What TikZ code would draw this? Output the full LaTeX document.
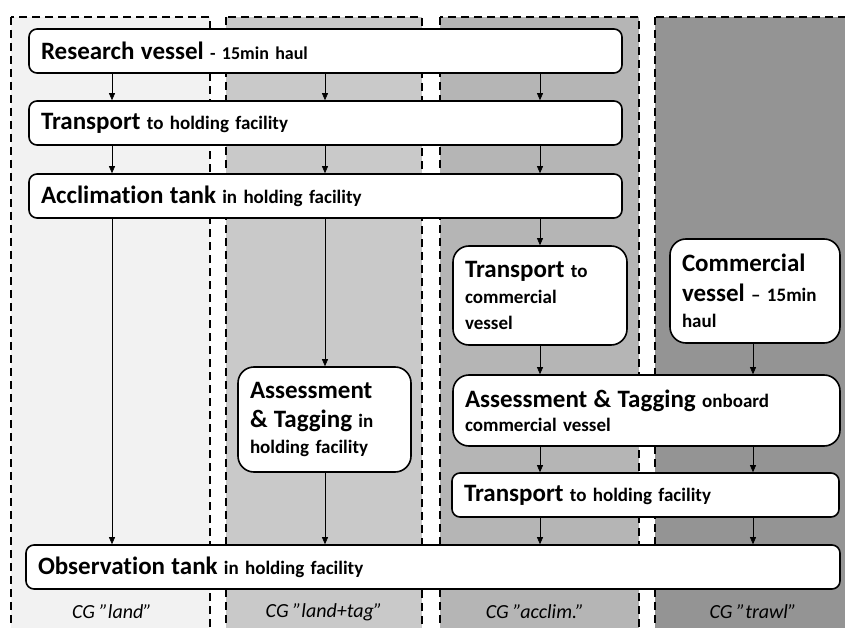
\documentclass[tikz,border=0pt]{standalone}
\usepackage{fontspec}
\setmainfont{Carlito}[Ligatures=NoCommon]
\usepackage{tikz}
\usetikzlibrary{arrows.meta,calc}

\newcommand{\headfs}{\fontsize{25}{27}\selectfont}
\newcommand{\notefs}{\fontsize{19}{26}\selectfont}
\newcommand{\smallnotefs}{\fontsize{18}{26}\selectfont}

\tikzset{
  lane/.style={draw=black, line width=2pt, dash pattern=on 8pt off 5pt},
  stage/.style={draw=black, line width=1.6pt, rounded corners=8pt, fill=white,
    inner xsep=12pt, inner ysep=0pt, align=left, font=\bfseries\notefs},
  tallstage/.style={stage, rounded corners=16pt},
  flow/.style={-{Triangle[length=7pt,width=6pt]}, line width=0.6pt},
  lanelabel/.style={font=\itshape\fontsize{20}{24}\selectfont}
}

\begin{document}
\begin{tikzpicture}[x=1pt,y=-1pt]
\useasboundingbox (0,0) rectangle (845,628);
\begin{scope}
\clip (0,0) rectangle (845,628);
\filldraw[lane,fill=black!5] (11,17) rectangle (210,645);
\filldraw[lane,fill=black!21] (226,17) rectangle (422,645);
\filldraw[lane,fill=black!29] (440,17) rectangle (639,645);
\filldraw[lane,fill=black!42] (655,17) rectangle (870,645);
\end{scope}

\coordinate (c1) at (112,0);
\coordinate (c2) at (325,0);
\coordinate (c3) at (540,0);
\coordinate (c4) at (753,0);

\node[stage, text width=569pt, minimum height=44pt] (research) at (325.5,51)
  {{\headfs Research vessel} {\smallnotefs - 15min haul}};
\node[stage, text width=569pt, minimum height=44pt] (transp) at (325.5,123)
  {{\headfs Transport} to holding facility};
\node[stage, text width=569pt, minimum height=44pt] (acclim) at (325.5,196)
  {{\headfs Acclimation tank} in holding facility};
\node[tallstage, text width=150pt, minimum height=99pt] (transcom) at (540,295.5)
  {{\headfs Transport} to\\ commercial\\ vessel};
\node[tallstage, text width=146pt, minimum height=104pt] (comves) at (755,291)
  {{\headfs Commercial}\\[4pt] {\headfs vessel} -- 15min\\ haul};
\node[tallstage, text width=149pt, minimum height=105pt] (assesshold) at (324.5,419.5)
  {{\headfs Assessment}\\[3pt] {\headfs\& Tagging} in\\ holding facility};
\node[tallstage, text width=363pt, minimum height=71pt] (assessboard) at (646.5,410.5)
  {{\headfs Assessment \& Tagging} onboard\\[-2pt] commercial vessel};
\node[stage, text width=363pt, minimum height=44pt] (transhold) at (645.5,495)
  {{\headfs Transport} to holding facility};
\node[stage, text width=790pt, minimum height=44pt] (obs) at (433,567)
  {{\headfs Observation tank} in holding facility};

\foreach \c in {c1,c2,c3}{
  \draw[flow] (research.south -| \c) -- (transp.north -| \c);
  \draw[flow] (transp.south -| \c) -- (acclim.north -| \c);
}
\draw[flow] (acclim.south -| c1) -- (obs.north -| c1);
\draw[flow] (acclim.south -| c2) -- (assesshold.north -| c2);
\draw[flow] (assesshold.south -| c2) -- (obs.north -| c2);
\draw[flow] (acclim.south -| c3) -- (transcom.north -| c3);
\draw[flow] (transcom.south -| c3) -- (assessboard.north -| c3);
\draw[flow] (comves.south -| c4) -- (assessboard.north -| c4);
\foreach \c in {c3,c4}{
  \draw[flow] (assessboard.south -| \c) -- (transhold.north -| \c);
  \draw[flow] (transhold.south -| \c) -- (obs.north -| \c);
}

\node[lanelabel] (land) at (112,612) {CG "land"};
\node[lanelabel] (landtag) at (324,612) {CG "land+tag"};
\node[lanelabel] (acclimlbl) at (535,612) {CG "acclim."};
\node[lanelabel] (trawl) at (753,612) {CG "trawl"};
\end{tikzpicture}
\end{document}
